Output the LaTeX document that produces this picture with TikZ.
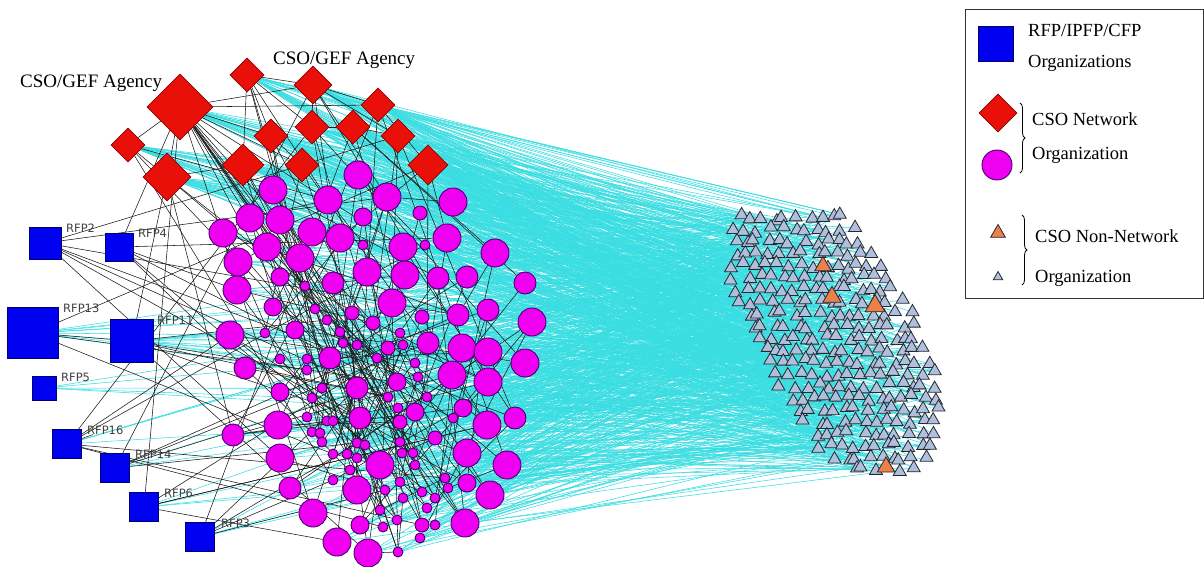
\documentclass[tikz,border=0pt]{standalone}
\usepackage{fontspec}
\setmainfont{Liberation Serif}
\newfontfamily\rfpfont{DejaVu Sans}
\usetikzlibrary{shapes.geometric,decorations.pathreplacing}
\pgfdeclarelayer{paper}
\pgfdeclarelayer{cyanlayer}
\pgfdeclarelayer{blacklayer}
\pgfsetlayers{paper,cyanlayer,blacklayer,main}
\definecolor{tie}{RGB}{58,222,226}
\definecolor{rfpblue}{RGB}{0,0,240}
\definecolor{rfpedge}{RGB}{0,0,110}
\definecolor{netred}{RGB}{232,16,8}
\definecolor{netrededge}{RGB}{140,0,0}
\definecolor{orgpink}{RGB}{240,0,240}
\definecolor{orgedge}{RGB}{70,0,110}
\definecolor{nonnet}{RGB}{176,192,220}
\definecolor{nonnetedge}{RGB}{36,40,48}
\definecolor{nonnetorange}{RGB}{236,128,72}
\newcount\tricount
\newcount\orgcount

\begin{document}
\begin{tikzpicture}[x=1pt,y=-1pt,
  rfp/.style={rectangle, fill=rfpblue, draw=rfpedge, line width=0.8pt, inner sep=0pt},
  net/.style={diamond, aspect=1, fill=netred, draw=netrededge, line width=0.8pt, inner sep=0pt},
  org/.style={circle, fill=orgpink, draw=orgedge, line width=0.9pt, inner sep=0pt},
  tri/.style={regular polygon, regular polygon sides=3, fill=nonnet, draw=nonnetedge, line width=0.8pt, inner sep=0pt, minimum size=15pt},
  otri/.style={tri, fill=nonnetorange},
  rfplabel/.style={font=\rfpfont\fontsize{11.5}{13}\selectfont, text=black!75, anchor=west, inner sep=0pt},
  agency/.style={font=\fontsize{19}{22}\selectfont, anchor=base west, inner sep=0pt},
  keytext/.style={font=\fontsize{18.5}{22}\selectfont, anchor=base west, inner sep=0pt},
  tieline/.style={draw=tie, line width=0.55pt},
  bondline/.style={draw=black!90, line width=0.55pt},
  keybrace/.style={draw=black, line width=0.8pt, decorate, decoration={brace, amplitude=5pt}},
]
\pgfmathsetseed{4711}
\useasboundingbox (0,0) rectangle (1204,567);
\begin{pgfonlayer}{paper}
  \fill[white] (0,0) rectangle (1204,567);
\end{pgfonlayer}

% ---------- non-network organizations (triangles) ----------
\foreach \yy/\l/\r in {218/732/850, 230/730/857, 242/728/866, 254/730/878,
    266/729/886, 278/729/892, 290/731/898, 302/736/906, 314/742/914,
    326/747/918, 338/753/921, 350/759/927, 362/765/933, 374/771/937,
    386/777/940, 398/785/942, 410/793/943, 422/801/942, 434/808/940,
    446/815/937, 458/830/930, 469/848/915} {
  \pgfmathtruncatemacro\n{round((\r-\l)/11.5)}
  \foreach \i in {1,...,\n} {
    \global\advance\tricount by 1
    \edef\tid{\the\tricount}
    \pgfmathsetmacro\tx{\l+(\i-0.5)*(\r-\l)/\n + 4.5*rand}
    \pgfmathsetmacro\ty{\yy + 3.5*rand}
    \node[tri] (t\tid) at (\tx,\ty) {};
  }
}
\edef\ntri{\the\tricount}
\node[otri, minimum size=19pt] (o1) at (823,266) {};
\node[otri, minimum size=21pt] (o2) at (832,297) {};
\node[otri, minimum size=23pt] (o3) at (875,306) {};
\node[otri, minimum size=20pt] (o4) at (886,467) {};

% ---------- network organizations (circles) ----------
\foreach \x/\y/\rr in {358/175/14, 273/190/14, 328/200/14, 387/197/14, 453/202/14,
    250/218/14, 280/220/14, 223/233/14, 312/232/14, 340/238/14, 447/238/14,
    267/247/14, 403/247/14, 495/253/14, 238/262/14, 300/258/14, 367/272/14,
    405/275/14, 237/290/14, 392/303/14, 532/322/14, 230/335/14, 462/348/14,
    488/352/14, 525/363/14, 452/375/14, 488/382/14, 278/425/14, 487/425/14,
    280/458/14, 380/465/14, 467/453/14, 507/465/14, 357/490/14, 490/495/14,
    313/513/14, 465/523/14, 337/542/14, 368/553/14,
    438/278/11, 467/277/11, 525/283/11, 333/283/11, 458/315/11, 488/310/11,
    330/358/11, 428/343/11, 245/368/11, 357/388/11, 360/418/11, 515/418/11,
    233/435/11, 290/488/11,
    363/217/9, 280/277/9, 273/307/9, 295/330/9, 397/382/9, 280/392/9,
    463/408/9, 415/412/9, 467/483/9, 360/525/9,
    420/213/7, 352/313/7, 373/323/7, 388/348/7, 422/317/7, 400/422/7,
    435/438/7, 422/525/7,
    363/245/5, 425/245/5, 305/286/5, 265/333/5, 315/309/5, 327/320/5,
    340/332/5, 343/343/5, 357/345/5, 400/333/5, 403/345/5, 280/359/5,
    307/359/5, 307/370/5, 377/358/5, 415/363/5, 418/377/5, 322/388/5,
    312/398/5, 388/397/5, 398/408/5, 427/397/5, 307/417/5, 327/421/5,
    333/421/5, 312/432/5, 320/433/5, 322/442/5, 357/443/5, 365/445/5,
    400/442/5, 402/453/5, 333/454/5, 347/454/5, 357/458/5, 413/453/5,
    415/465/5, 350/470/5, 333/480/5, 400/482/5, 385/490/5, 422/492/5,
    445/478/5, 448/488/5, 403/498/5, 435/498/5, 380/510/5, 427/508/5,
    397/520/5, 383/527/5, 435/525/5, 420/538/5, 398/552/5, 453/418/5} {
  \global\advance\orgcount by 1
  \edef\cid{\the\orgcount}
  \node[org, minimum size=2*\rr] (c\cid) at (\x,\y) {};
}
\edef\norg{\the\orgcount}

% ---------- network organizations and agencies (diamonds) ----------
\foreach \x/\y/\h [count=\k] in {180/107/33, 247/75/17, 313/85/19, 378/105/17,
    128/145/17, 167/177/24, 271/136/17, 312/127/17, 353/127/17, 398/136/17,
    243/165/21, 302/165/17, 428/165/20} {
  \node[net, minimum size=2*\h] (d\k) at (\x,\y) {};
}
\node[agency] (agency-a) at (20,88) {CSO/GEF Agency};
\node[agency] (agency-b) at (273,65) {CSO/GEF Agency};

% ---------- funding programmes (squares) ----------
\foreach \p/\x/\y/\s/\lx/\ly in {2/45/243/32/66/228, 4/119/247/28/138/233,
    13/33/333/51/63/308, 11/132/341/43/157/320, 5/44/388/24/61/377,
    16/67/444/29/87/430, 14/115/468/29/135/454, 6/144/507/29/164/493,
    3/200/537/29/221/523} {
  \node[rfp, minimum size=\s] (rfp\p) at (\x,\y) {};
  \node[rfplabel] (rfp\p-label) at (\lx,\ly) {RFP\p};
}

% ---------- ties to non-network organizations ----------
\begin{pgfonlayer}{cyanlayer}
  \foreach \k in {1,...,13} {
    \foreach \m in {1,...,28} {
      \pgfmathrandominteger{\a}{1}{\ntri}
      \draw[tieline] (d\k) -- (t\a);
    }
  }
  \foreach \k in {1,...,\norg} {
    \foreach \m in {1,...,5} {
      \pgfmathrandominteger{\a}{1}{\ntri}
      \draw[tieline] (c\k) -- (t\a);
    }
  }
  \foreach \p/\cnt in {13/9, 11/10, 5/5, 16/4, 14/3, 6/4, 3/4} {
    \foreach \m in {1,...,\cnt} {
      \pgfmathrandominteger{\a}{1}{\ntri}
      \draw[tieline] (rfp\p) -- (t\a);
    }
  }
  \foreach \k in {1,...,4} {
    \foreach \m in {1,...,4} {
      \pgfmathrandominteger{\a}{1}{\norg}
      \draw[tieline] (c\a) -- (o\k);
    }
  }
\end{pgfonlayer}

% ---------- ties among network members ----------
\begin{pgfonlayer}{blacklayer}
  \foreach \u/\v in {d1/d3, d1/d4, d2/d3, d2/d8, d3/d4, d1/d7, d1/d5, d1/d6,
      d5/d6, d3/d10, d4/d13, d2/d7, d7/d12, d8/d9, d11/d1, d9/d10, d3/d8,
      d1/d12, d2/d11, d6/d11, rfp13/rfp11, rfp16/rfp16-label} {
    \draw[bondline] (\u) -- (\v);
  }
  \foreach \p/\cnt in {2/6, 4/5, 13/2, 11/5, 16/5, 14/4, 6/4, 3/4} {
    \foreach \m in {1,...,\cnt} {
      \pgfmathrandominteger{\a}{1}{\norg}
      \draw[bondline] (rfp\p) -- (c\a);
    }
    \pgfmathrandominteger{\b}{1}{13}
    \draw[bondline] (rfp\p) -- (d\b);
  }
  \foreach \m in {1,...,12} {
    \pgfmathrandominteger{\a}{1}{\norg}
    \draw[bondline] (d1) -- (c\a);
  }
  \foreach \k in {2,...,13} {
    \foreach \m in {1,...,3} {
      \pgfmathrandominteger{\a}{1}{\norg}
      \draw[bondline] (d\k) -- (c\a);
    }
  }
  \foreach \k in {1,...,\norg} {
    \pgfmathrandominteger{\a}{1}{\norg}
    \draw[bondline] (c\k) -- (c\a);
  }
\end{pgfonlayer}

% ---------- key ----------
\node[draw=black!80, line width=1pt, minimum width=238pt, minimum height=289pt,
      anchor=north west, inner sep=0pt] (keybox) at (965,9) {};
\node[rfp, minimum size=35] (key-rfp) at (996,44) {};
\node[keytext] (key-rfp-a) at (1028,37) {RFP/IPFP/CFP};
\node[keytext] (key-rfp-b) at (1028,68) {Organizations};
\node[net, minimum size=38] (key-net) at (998,113) {};
\node[org, minimum size=30] (key-org) at (997,165) {};
\draw[keybrace] (1020,103) -- (1020,173);
\node[keytext] (key-net-a) at (1032,125) {CSO Network};
\node[keytext] (key-net-b) at (1032,159) {Organization};
\node[otri, minimum size=17] (key-otri) at (998,233) {};
\node[tri, minimum size=11] (key-tri) at (998,277) {};
\draw[keybrace] (1022,215) -- (1022,285);
\node[keytext] (key-non-a) at (1035,242) {CSO Non-Network};
\node[keytext] (key-non-b) at (1035,282) {Organization};
\end{tikzpicture}
\end{document}
